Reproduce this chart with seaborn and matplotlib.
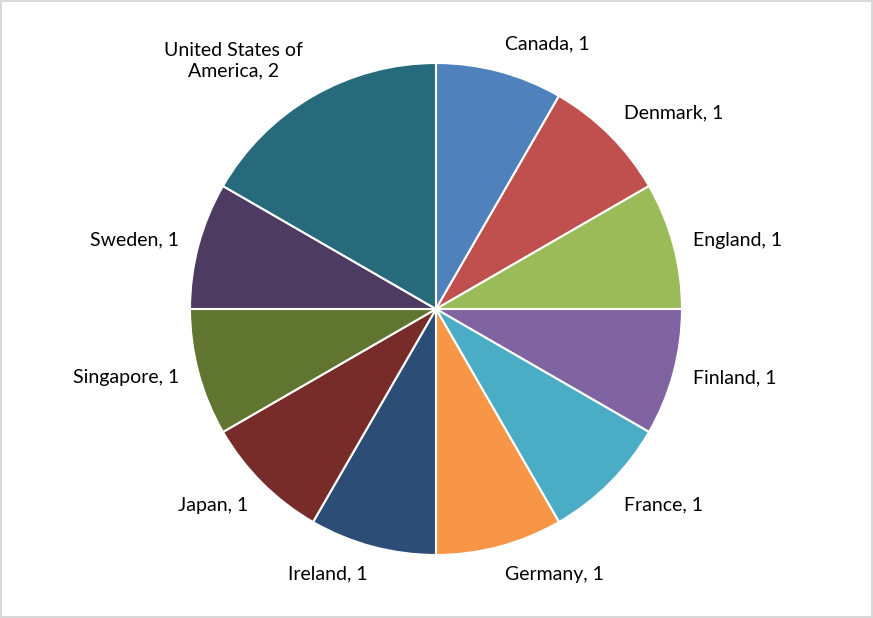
import matplotlib
matplotlib.use("Agg")
import matplotlib.pyplot as plt
import seaborn as sns
import numpy as np

countries = ["Canada", "Denmark", "England", "Finland", "France", "Germany",
             "Ireland", "Japan", "Singapore", "Sweden", "United States of\nAmerica"]
counts = [1, 1, 1, 1, 1, 1, 1, 1, 1, 1, 2]
colors = ["#4F81BD", "#C0504D", "#9BBB59", "#8064A2", "#4BACC6", "#F79646",
          "#2C4D75", "#772C2A", "#5F7530", "#4D3B62", "#276A7C"]

sns.set_theme(style="white")
plt.rcParams['font.family'] = ['Lato', 'DejaVu Sans']

fig = plt.figure(figsize=(8.73, 6.18), dpi=100)
fig.patch.set_facecolor("white")
fig.patch.set_edgecolor("#D9D9D9")
fig.patch.set_linewidth(1.5)
ax = fig.add_axes([0, 0, 1, 1])

labels = [f"{c}, {v}" for c, v in zip(countries, counts)]
wedges, texts = ax.pie(counts, labels=labels, colors=colors, startangle=90,
                       counterclock=False, labeldistance=1.1,
                       wedgeprops=dict(edgecolor="white", linewidth=1.5),
                       textprops=dict(fontsize=14, color="#000000",
                                      multialignment="center"))

# outside-end label placement (Excel style)
r_lab = 1.08
for w, t in zip(wedges, texts):
    th = np.deg2rad((w.theta1 + w.theta2) / 2)
    c, s = np.cos(th), np.sin(th)
    t.set_position((r_lab * c, r_lab * s))
    t.set_ha("left" if c > 0 else "right")
    if abs(s) < 0.5:
        t.set_va("center")
    else:
        t.set_va("bottom" if s > 0 else "top")

ax.set_xlim(-436 / 246, (873 - 436) / 246)
ax.set_ylim(-309 / 246, 309 / 246)
ax.set_aspect("auto")
ax.axis("off")

fig.savefig("out.png", dpi=100)
